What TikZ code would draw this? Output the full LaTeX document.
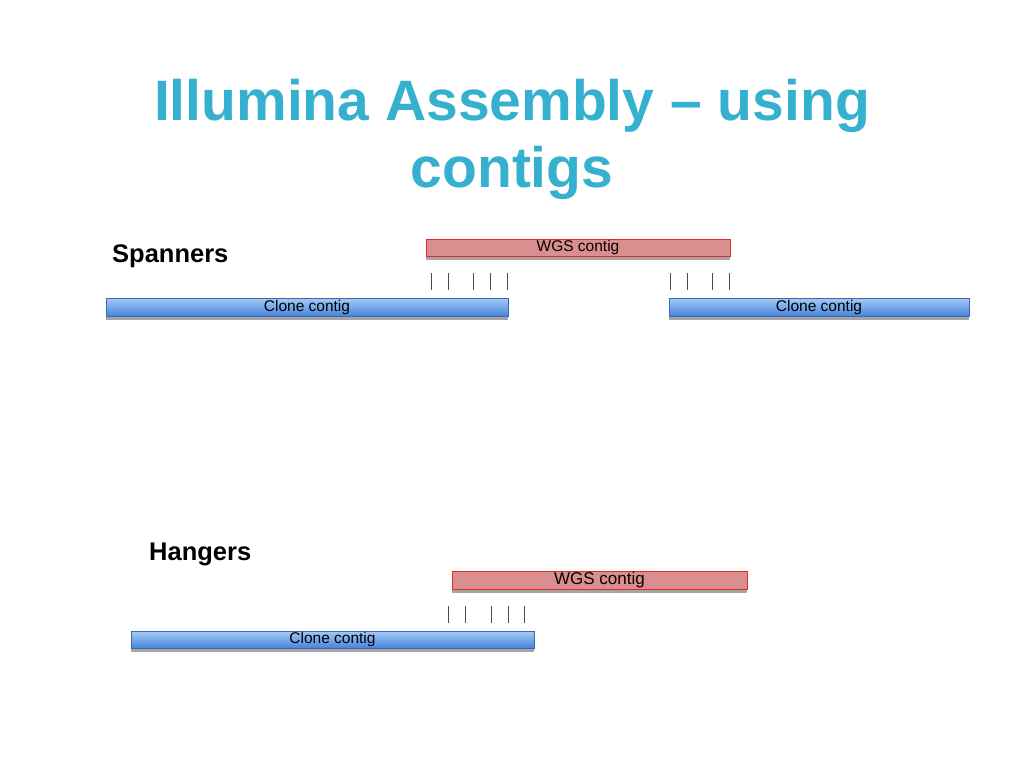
\documentclass[tikz,border=0pt]{standalone}
\usepackage{fontspec}
\setmainfont{Liberation Sans}
\usetikzlibrary{shadows}
\definecolor{titleblue}{RGB}{53,177,207}
\definecolor{wgsfill}{RGB}{219,142,142}
\definecolor{wgsdraw}{RGB}{222,45,45}
\definecolor{clonetop}{RGB}{165,203,246}
\definecolor{clonebot}{RGB}{72,132,218}
\definecolor{clonedraw}{RGB}{62,104,182}
\definecolor{shadowgray}{RGB}{165,165,165}
\tikzset{
  bar/.style={anchor=north west, inner sep=0pt, outer sep=0pt, line width=0.9pt,
    drop shadow={shadow xshift=0pt, shadow yshift=-3.5pt, fill=shadowgray, opacity=1}},
  wgsbar/.style={bar, fill=wgsfill, draw=wgsdraw},
  clonebar/.style={bar, top color=clonetop, bottom color=clonebot, draw=clonedraw},
  heading/.style={anchor=base west, font=\bfseries\fontsize{25.5}{29}\selectfont, inner sep=0pt},
  tick/.style={line width=0.8pt, draw=black!70},
}
\begin{document}
\begin{tikzpicture}[x=1pt,y=-1pt]
\useasboundingbox[fill=white] (0,0) rectangle (1024,768);
% title
\node[anchor=base, inner sep=0pt, text=titleblue, font=\bfseries\fontsize{57}{67}\selectfont] (t1) at (512,120) {Illumina Assembly – using};
\node[anchor=base, inner sep=0pt, text=titleblue, font=\bfseries\fontsize{57}{67}\selectfont] (t2) at (512,187) {contigs};
% Spanners
\node[heading] (sp) at (112,262) {Spanners};
\node[wgsbar, minimum width=304pt, minimum height=17pt, font=\fontsize{15.5}{17}\selectfont] (w1) at (426,239) {WGS contig};
\node[clonebar, minimum width=402pt, minimum height=18pt, font=\fontsize{15.5}{17}\selectfont] (c1) at (106,298) {\raisebox{-1pt}{Clone contig}};
\node[clonebar, minimum width=300pt, minimum height=18pt, font=\fontsize{15.5}{17}\selectfont] (c2) at (669,298) {\raisebox{-1pt}{Clone contig}};
\foreach \x in {431,448,473,490,507,670,687,712,729}
  \draw[tick] (\x,273) -- (\x,290);
% Hangers
\node[heading] (hg) at (149,560) {Hangers};
\node[wgsbar, minimum width=295pt, minimum height=18pt, font=\fontsize{17}{19}\selectfont] (w2) at (452,571) {\raisebox{-1pt}{WGS contig}};
\node[clonebar, minimum width=403pt, minimum height=17pt, font=\fontsize{15.5}{17}\selectfont] (c3) at (131,631) {\raisebox{-1pt}{Clone contig}};
\foreach \x in {448,465,491,508,524}
  \draw[tick] (\x,606) -- (\x,623);
\end{tikzpicture}
\end{document}
